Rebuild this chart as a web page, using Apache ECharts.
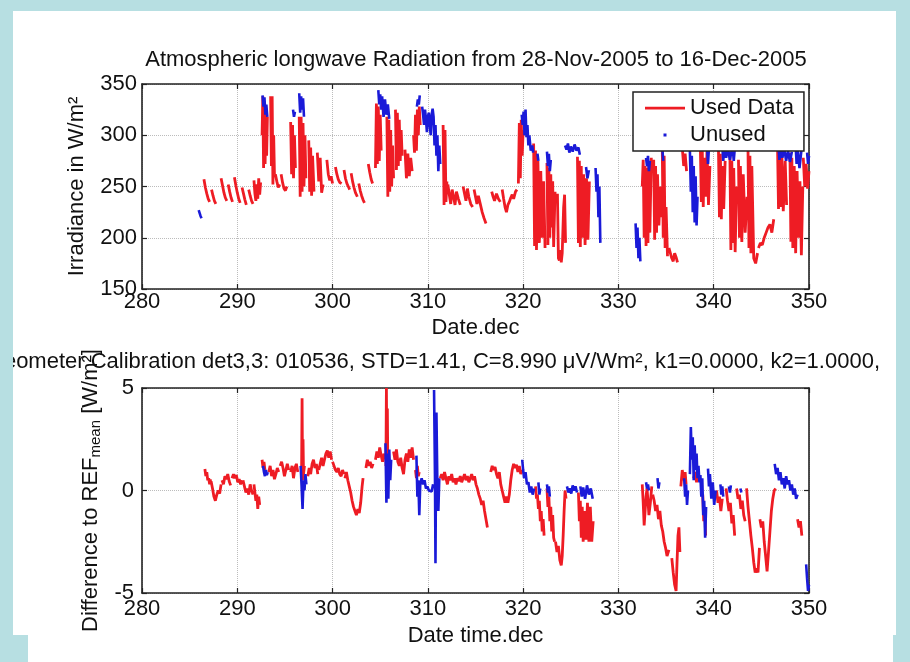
<!DOCTYPE html>
<html>
<head>
<meta charset="utf-8">
<script src="https://cdn.jsdelivr.net/npm/echarts@6/dist/echarts.min.js"></script>
<style>html,body{margin:0;padding:0;background:#b7dfe2;}#c{width:910px;height:662px;}</style>
</head>
<body>
<div id="c"></div>
<script>
// ---------- tick labels ----------
const xTicks = [280, 290, 300, 310, 320, 330, 340, 350];
const radTicks = [150, 200, 250, 300, 350];
const diffTicks = [-5, 0, 5];

// ---------- texts ----------
const title1 = 'Atmospheric longwave Radiation from 28-Nov-2005 to 16-Dec-2005';
const title2 = 'Pyrgeometer Calibration det3,3: 010536, STD=1.41, C=8.990 \u03bcV/Wm\u00b2, k1=0.0000, k2=1.0000,';
const legendNames = ['Used Data', 'Unused'];

// ---------- top panel: irradiance, used data (segments of [day, W/m2]) ----------
const radUsed = [
 [[286.5,257],[286.65,249],[286.8,243],[286.95,238],[287.1,235]],
 [[287.3,247],[287.45,241],[287.6,236],[287.75,233]],
 [[288.3,258],[288.45,251],[288.6,244],[288.75,239],[288.9,236]],
 [[289.05,252],[289.2,245],[289.35,239],[289.5,235]],
 [[289.7,259],[289.85,251],[290.0,244],[290.15,238],[290.3,234]],
 [[290.5,249],[290.65,243],[290.8,237],[290.95,232]],
 [[291.2,247],[291.35,241],[291.5,236],[291.65,233]],
 [[291.75,256],[291.85,243],[291.95,236],[292.05,252],[292.15,238],[292.25,258],[292.35,242],[292.45,254]],
 [[292.6,300],[292.68,338],[292.76,268],[292.84,333],[292.92,272],[293.0,325],[293.08,280],[293.16,318]],
 [[293.5,338],[293.58,270],[293.66,338],[293.74,252],[293.82,300],[293.9,262]],
 [[294.0,262],[294.15,255],[294.3,249],[294.45,252]],
 [[294.6,262],[294.75,254],[294.9,248],[295.05,246],[295.2,250]],
 [[295.6,313],[295.7,262],[295.8,310],[295.9,258],[296.0,300],[296.1,268]],
 [[296.5,318],[296.6,240],[296.7,318],[296.8,245],[296.9,312],[297.0,250],[297.1,300],[297.2,258]],
 [[297.5,295],[297.6,245],[297.7,288],[297.8,241],[297.9,280],[298.05,245]],
 [[298.4,283],[298.55,255],[298.7,278],[298.85,244],[299.0,252]],
 [[299.4,276],[299.55,262],[299.7,256],[299.85,260],[300.0,253]],
 [[300.3,269],[300.45,262],[300.6,257],[300.75,254],[300.95,253]],
 [[301.2,266],[301.35,258],[301.5,253],[301.65,250],[301.8,247]],
 [[301.95,263],[302.1,255],[302.25,249],[302.4,244],[302.6,240]],
 [[302.75,253],[302.9,246],[303.05,241],[303.2,237],[303.35,234]],
 [[303.75,272],[303.9,264],[304.05,257],[304.2,253]],
 [[304.5,268],[304.6,331],[304.7,272],[304.8,328],[304.9,275],[305.0,320],[305.1,285]],
 [[305.7,318],[305.8,240],[305.9,315],[306.0,245],[306.1,305],[306.2,250],[306.3,290],[306.4,258]],
 [[306.6,325],[306.7,266],[306.8,322],[306.9,270],[307.0,315],[307.1,275],[307.2,305],[307.3,280]],
 [[307.6,286],[307.75,258],[307.9,282],[308.05,260],[308.2,278],[308.35,265]],
 [[308.5,300],[308.6,283],[308.7,320],[308.8,285],[308.9,325],[309.0,300],[309.1,328],[309.2,310]],
 [[311.6,310],[311.7,232],[311.8,305],[311.9,235],[312.0,255]],
 [[312.1,252],[312.25,242],[312.4,233],[312.55,247],[312.7,240],[312.85,232],[313.0,245],[313.2,238],[313.4,232]],
 [[313.7,250],[313.85,243],[314.0,236],[314.15,248],[314.3,240],[314.5,233],[314.7,230]],
 [[314.85,247],[315.0,240],[315.15,233],[315.3,241],[315.5,233],[315.7,225],[315.9,219],[316.1,214]],
 [[316.7,245],[316.85,240],[317.0,236],[317.2,243],[317.4,238],[317.6,235]],
 [[317.8,247],[317.95,238],[318.1,230],[318.25,225],[318.4,232],[318.55,235],[318.7,239],[318.85,242],[319.0,238],[319.2,245],[319.35,247]],
 [[319.5,253],[319.6,312],[319.7,258],[319.8,315],[319.9,280],[320.0,305]],
 [[321.1,292],[321.2,192],[321.3,285],[321.4,188],[321.55,275],[321.7,195],[321.85,265],[322.0,200],[322.15,255],[322.3,190]],
 [[322.5,273],[322.6,193],[322.7,268],[322.8,200],[322.9,262],[323.0,210],[323.1,255],[323.2,191],[323.35,245]],
 [[323.6,243],[323.7,180],[323.8,178],[323.9,188],[324.0,176],[324.1,185],[324.25,230],[324.35,242],[324.45,195]],
 [[325.7,279],[325.8,195],[325.9,275],[326.0,191],[326.1,270],[326.2,200],[326.35,262],[326.5,193],[326.65,258],[326.8,198],[326.95,255]],
 [[332.5,250],[332.6,276],[332.7,200],[332.8,270],[332.9,192],[333.0,268],[333.1,195],[333.2,275],[333.3,205],[333.45,278]],
 [[333.7,276],[333.8,198],[333.9,270],[334.0,205],[334.1,262],[334.25,212],[334.4,250],[334.55,220]],
 [[334.6,288],[334.7,200],[334.8,280],[334.9,190],[335.0,230],[335.15,182]],
 [[335.3,190],[335.45,185],[335.6,180],[335.75,177],[335.9,185],[336.05,181],[336.2,176]],
 [[336.7,288],[336.85,270],[337.0,282],[337.15,265]],
 [[338.6,288],[338.7,235],[338.8,285],[338.9,230],[339.0,278],[339.15,240],[339.3,286],[339.45,232],[339.6,270]],
 [[340.5,286],[340.6,220],[340.7,282],[340.8,218],[340.9,270],[341.05,228],[341.2,275]],
 [[341.7,280],[341.8,188],[341.9,275],[342.0,195],[342.1,268],[342.25,186],[342.4,250]],
 [[342.6,276],[342.7,200],[342.8,270],[342.95,196],[343.1,262],[343.3,205],[343.5,240]],
 [[343.6,285],[343.7,190],[343.8,280],[343.9,185],[344.0,270],[344.2,180],[344.4,175],[344.6,185]],
 [[344.7,190],[344.9,195],[345.1,193],[345.3,200],[345.5,205],[345.7,210],[345.9,213],[346.1,205],[346.3,218]],
 [[346.7,288],[346.8,228],[346.9,285],[347.0,230],[347.15,280],[347.3,226],[347.5,275],[347.65,232]],
 [[348.0,283],[348.1,196],[348.2,278],[348.3,190],[348.45,270],[348.6,185],[348.75,265],[348.9,200],[349.05,255],[349.2,183],[349.35,250]],
 [[349.4,278],[349.55,250],[349.7,272],[349.85,248],[350.0,265]]
];

// ---------- top panel: irradiance, unused data ----------
const radUnused = [
 [[285.95,227],[286.05,224],[286.15,221],[286.25,219]],
 [[292.65,339],[292.75,328],[292.85,337],[292.95,320],[293.05,330],[293.15,318]],
 [[295.85,325],[295.95,318],[296.05,323]],
 [[296.5,341],[296.6,322],[296.7,338],[296.8,325],[296.9,336],[297.0,318]],
 [[304.8,344],[304.9,330],[305.0,340],[305.1,325],[305.2,338],[305.35,318],[305.5,335],[305.65,320],[305.8,330],[305.95,316]],
 [[308.85,328],[308.95,335],[309.05,330],[309.15,339]],
 [[309.4,328],[309.5,320],[309.6,310],[309.7,325],[309.8,316],[309.9,303],[310.0,318],[310.1,322],[310.2,310],[310.3,300],[310.4,320],[310.5,326],[310.6,318],[310.7,290],[310.8,310],[310.9,280],[311.0,300],[311.1,265],[311.2,290],[311.3,272]],
 [[319.85,320],[319.95,310],[320.05,323],[320.15,300],[320.25,325],[320.35,298],[320.45,310],[320.55,290],[320.65,300],[320.8,285],[320.95,290],[321.05,283]],
 [[321.5,282],[321.6,275]],
 [[322.5,284],[322.6,270],[322.7,282],[322.8,265],[322.9,276]],
 [[324.4,290],[324.55,286],[324.7,292],[324.85,283],[325.0,289],[325.2,284],[325.4,291],[325.6,285],[325.8,288],[325.95,281]],
 [[326.6,269],[326.75,258],[326.9,266]],
 [[327.6,268],[327.7,245],[327.8,262],[327.9,220],[328.0,250],[328.1,195]],
 [[331.8,214],[331.9,190],[332.0,210],[332.1,180],[332.2,200],[332.3,177]],
 [[332.9,278],[333.0,270],[333.1,280],[333.2,265],[333.3,275]],
 [[334.6,288],[334.7,275]],
 [[337.5,285],[337.6,245],[337.7,280],[337.8,225],[337.9,270],[338.0,215],[338.1,260],[338.2,212],[338.3,240]],
 [[339.3,290],[339.4,272],[339.5,288]],
 [[340.9,290],[341.0,275],[341.1,288],[341.3,278],[341.5,287],[341.7,276],[341.9,286]],
 [[342.0,288],[342.1,275],[342.2,286]],
 [[346.8,290],[346.9,276],[347.0,288],[347.2,278],[347.4,287],[347.6,275],[347.8,285],[348.0,274],[348.2,284]],
 [[348.6,290],[348.7,272],[348.8,288],[349.0,268],[349.2,285]],
 [[349.8,283],[349.9,272],[350.0,280]]
];

// ---------- bottom panel: difference to REF mean, used data ----------
const diffUsed = [
 [[286.6,1.05],[286.7,0.7],[286.8,0.9],[286.9,0.5],[287.0,0.6],[287.1,0.3],[287.2,0.55]],
 [[287.25,0.45],[287.4,0.1],[287.55,-0.3],[287.7,-0.5],[287.85,-0.2],[288.0,0.0],[288.15,-0.15],[288.3,0.3]],
 [[288.4,0.5],[288.55,0.3],[288.7,0.7],[288.85,0.55],[289.0,0.8],[289.15,0.45],[289.3,0.25]],
 [[289.45,0.6],[289.6,0.8],[289.75,0.6],[289.9,0.75],[290.05,0.4],[290.2,0.55],[290.35,0.3],[290.5,0.5]],
 [[290.6,0.5],[290.75,0.2],[290.9,-0.1],[291.05,0.1],[291.2,-0.2],[291.35,0.3],[291.5,0.0],[291.65,-0.2]],
 [[291.75,0.3],[291.85,-0.1],[291.95,-0.5],[292.05,-0.2],[292.15,-0.9],[292.25,-0.3],[292.35,-0.7]],
 [[292.6,1.5],[292.7,1.1],[292.8,1.4],[292.9,1.0]],
 [[293.3,0.9],[293.45,1.2],[293.6,0.7],[293.75,1.0],[293.9,0.55],[294.05,0.8],[294.2,1.1],[294.35,0.9]],
 [[294.5,1.2],[294.65,1.4],[294.8,1.1],[294.95,0.7],[295.1,1.0],[295.25,1.3],[295.4,1.0]],
 [[295.6,0.9],[295.75,1.2],[295.9,0.6],[296.05,1.1],[296.2,1.3],[296.35,0.9]],
 [[296.75,1.0],[296.8,4.5],[296.85,0.5],[296.9,2.5],[296.95,0.8],[297.05,1.2]],
 [[297.4,0.7],[297.55,1.1],[297.7,0.8],[297.85,1.3],[298.0,1.5],[298.15,1.1],[298.3,1.3],[298.45,0.8]],
 [[298.55,1.0],[298.7,1.3],[298.85,1.6],[299.0,1.2],[299.15,1.5],[299.3,1.8],[299.45,1.95],[299.6,1.6],[299.75,1.9],[299.9,1.5]],
 [[300.0,1.4],[300.15,1.2],[300.3,1.0],[300.45,0.9],[300.6,1.1],[300.75,0.8],[300.9,0.7],[301.05,1.0],[301.2,0.8]],
 [[301.3,0.6],[301.45,0.9],[301.6,0.5],[301.75,0.2],[301.9,-0.1],[302.05,-0.5],[302.2,-0.8],[302.35,-1.0],[302.5,-1.2],[302.65,-0.9],[302.8,-1.1],[302.95,-0.6],[303.1,0.2],[303.2,0.6]],
 [[303.5,1.1],[303.65,1.5],[303.8,1.2],[303.95,1.4],[304.1,1.1],[304.25,1.3]],
 [[304.5,1.5],[304.65,1.9],[304.8,1.6],[304.95,2.1],[305.1,1.7],[305.25,1.4],[305.4,1.8]],
 [[305.6,1.2],[305.65,5.0],[305.7,1.5],[305.75,4.0],[305.8,1.0],[305.9,1.6]],
 [[306.4,1.9],[306.55,1.5],[306.7,2.0],[306.85,1.4],[307.0,1.2],[307.15,1.6],[307.3,1.1],[307.45,0.8],[307.6,1.5],[307.75,1.8],[307.9,1.4],[308.05,2.0],[308.2,1.6],[308.35,2.1],[308.5,1.5]],
 [[308.7,1.0],[308.8,0.6],[308.9,1.2],[309.0,0.7],[309.1,0.9]],
 [[311.3,0.6],[311.45,0.8],[311.6,0.5],[311.75,0.9],[311.9,0.6],[312.05,0.3],[312.2,0.7],[312.35,0.5],[312.5,0.8],[312.65,0.4],[312.8,0.6],[312.95,0.3],[313.1,0.6],[313.25,0.45],[313.4,0.7],[313.55,0.4],[313.7,0.6],[313.85,0.8],[314.0,0.5],[314.15,0.7],[314.3,0.4],[314.45,0.6],[314.6,0.8],[314.75,0.5],[314.9,0.7],[315.05,0.3],[315.2,0.1],[315.35,-0.2],[315.5,-0.4],[315.65,-0.7],[315.8,-0.5],[315.95,-1.0],[316.1,-1.4],[316.25,-1.8]],
 [[316.6,0.9],[316.75,1.2],[316.9,1.0],[317.05,1.15],[317.2,0.8],[317.35,0.6],[317.5,0.9],[317.65,0.3],[317.8,0.0],[317.95,-0.3],[318.1,-0.6],[318.25,-0.3],[318.4,-0.6],[318.55,-0.2],[318.7,0.5],[318.85,1.0],[319.0,1.3],[319.15,1.1],[319.3,1.25],[319.45,0.9],[319.6,1.2],[319.75,0.8],[319.9,1.0]],
 [[321.3,0.2],[321.4,-0.4],[321.5,-0.2],[321.6,-0.9],[321.7,-0.5],[321.8,-1.5],[321.9,-1.0],[322.0,-2.0],[322.1,-1.4],[322.2,-2.2]],
 [[322.5,0.1],[322.6,-0.8],[322.7,-0.3],[322.8,-1.5],[322.9,-0.8],[323.0,-2.0],[323.1,-1.2],[323.2,-2.3],[323.3,-2.5]],
 [[323.4,-2.5],[323.55,-3.0],[323.7,-2.7],[323.85,-3.4],[324.0,-3.65],[324.1,-3.2],[324.2,-2.2],[324.3,-1.0],[324.4,0.0],[324.5,-0.4]],
 [[325.8,-0.1],[325.9,-1.5],[326.0,-0.5],[326.1,-2.3],[326.2,-0.8],[326.3,-2.5],[326.45,-1.0],[326.6,-2.4],[326.75,-0.6],[326.9,-2.5],[327.05,-0.8],[327.2,-2.5],[327.35,-1.5]],
 [[332.5,0.3],[332.6,-0.6],[332.7,-1.7],[332.8,-1.0],[332.9,-0.3],[333.0,0.1],[333.1,-0.5],[333.2,-1.2],[333.35,-0.6],[333.5,0.2]],
 [[333.6,-0.2],[333.75,-0.5],[333.9,-1.0],[334.05,-0.7],[334.2,-1.4],[334.35,-1.0],[334.5,-1.7],[334.65,-2.0],[334.8,-2.5],[334.95,-2.8],[335.1,-3.2],[335.3,-2.9]],
 [[335.6,-3.3],[335.75,-4.0],[335.9,-4.6],[336.05,-4.9],[336.15,-3.5],[336.25,-2.2],[336.35,-1.8],[336.45,-3.0]],
 [[336.55,0.2],[336.7,1.0],[336.85,0.5],[337.0,0.9],[337.1,0.3]],
 [[337.9,0.6],[338.05,0.9],[338.2,0.4],[338.35,0.7]],
 [[338.85,-0.2],[338.95,-1.5],[339.05,-0.8],[339.15,-2.2]],
 [[340.3,0.0],[340.45,-0.6],[340.6,-0.3],[340.75,-1.0],[340.9,-0.4]],
 [[341.3,0.1],[341.45,-0.5],[341.6,-1.0],[341.75,-0.6],[341.9,-1.6],[342.05,-1.2],[342.2,-2.2]],
 [[342.4,0.1],[342.55,-0.4],[342.7,-0.2],[342.85,-0.9],[343.0,-0.5],[343.15,-1.2],[343.3,-1.5]],
 [[343.45,0.1],[343.6,-0.8],[343.75,-1.5],[343.9,-2.2],[344.05,-2.8],[344.2,-3.5],[344.35,-4.0],[344.5,-3.8],[344.65,-4.0],[344.8,-2.8]],
 [[344.85,-1.4],[345.0,-1.8],[345.15,-1.5],[345.3,-2.5],[345.45,-3.2],[345.6,-3.95],[345.75,-3.0],[345.9,-2.0],[346.05,-1.0],[346.2,-0.4],[346.35,0.0],[346.5,0.1]],
 [[348.8,-1.4],[348.95,-1.8],[349.1,-1.5],[349.25,-2.2]]
];

// ---------- bottom panel: difference to REF mean, unused data ----------
const diffUnused = [
 [[292.7,1.2],[292.8,0.9],[292.9,0.7],[293.0,1.0],[293.1,0.75],[293.2,0.9]],
 [[296.65,1.2],[296.75,0.2],[296.85,-0.9],[296.95,0.5],[297.05,0.0],[297.15,0.8],[297.25,0.3]],
 [[305.55,2.3],[305.65,-0.6],[305.75,1.8],[305.85,-0.4],[305.95,2.0],[306.05,0.5],[306.15,1.5]],
 [[308.8,1.7],[308.9,-0.3],[309.0,0.5],[309.1,-1.2],[309.2,0.3],[309.35,0.6],[309.5,0.3],[309.65,0.5],[309.8,0.1],[309.95,0.2],[310.1,0.0],[310.25,0.05],[310.4,-0.05],[310.55,0.3]],
 [[310.65,4.9],[310.75,0.5],[310.8,-3.55],[310.85,0.7],[310.9,3.8],[311.0,0.2],[311.1,-1.0],[311.2,0.6]],
 [[319.9,1.5],[320.0,1.0],[320.1,0.6],[320.25,0.9],[320.4,0.3],[320.55,0.4],[320.7,-0.1],[320.85,0.2],[321.0,-0.2],[321.15,0.1]],
 [[321.6,0.4],[321.7,-0.2],[321.8,0.1]],
 [[322.5,0.3],[322.6,-0.1],[322.7,0.2],[322.8,-0.3]],
 [[324.6,0.2],[324.75,-0.1],[324.9,0.1],[325.05,-0.15],[325.2,0.25],[325.35,0.0],[325.5,0.2],[325.65,-0.1]],
 [[326.0,0.2],[326.15,-0.3],[326.3,0.15],[326.5,-0.4],[326.7,0.25],[326.9,-0.2],[327.1,0.1],[327.3,-0.4]],
 [[332.9,0.4],[333.0,0.1],[333.1,0.3],[333.2,0.0]],
 [[334.1,0.6],[334.2,0.1],[334.3,0.4]],
 [[336.9,0.6],[337.0,-0.3],[337.1,0.3],[337.2,-0.7],[337.3,0.0]],
 [[337.5,0.8],[337.6,3.1],[337.7,1.5],[337.8,2.6],[337.9,0.5],[338.0,2.2],[338.1,1.0],[338.2,1.8],[338.3,0.6],[338.4,1.2],[338.5,0.4]],
 [[338.6,0.75],[338.7,-0.3],[338.8,0.6],[338.9,-1.2],[339.0,-0.5],[339.1,-2.3],[339.2,-0.8]],
 [[339.4,1.07],[339.5,0.2],[339.6,0.8],[339.75,-0.4],[339.9,0.4],[340.05,-0.7],[340.2,0.0]],
 [[340.7,0.3],[340.8,-0.2],[340.9,0.2],[341.0,-0.3]],
 [[341.6,0.2],[341.7,-0.1],[341.8,0.25]],
 [[342.8,0.1],[342.9,-0.1]],
 [[346.4,1.3],[346.55,0.8],[346.7,1.1],[346.85,0.5],[347.0,0.9],[347.15,0.3],[347.3,0.6],[347.45,0.1],[347.6,0.7],[347.75,0.3],[347.9,0.5],[348.05,0.0],[348.2,0.3],[348.35,-0.2],[348.5,0.1],[348.65,-0.4],[348.8,-0.2]],
 [[349.7,-3.6],[349.8,-4.3],[349.9,-4.9],[350.0,-4.6]]
];

// ---------- build ----------
function flatten(segs) {
  const out = [];
  segs.forEach((s, i) => { if (i) out.push(['-', '-']); s.forEach(p => out.push(p)); });
  return out;
}
const RED = '#ee1c24', BLUE = '#1a1ad8', FONT = 'Liberation Sans, Arial, sans-serif';
const TXT = '#111';
const FS = 22;
const step = a => a[1] - a[0];

function xAx(grid, bottom, margin, name, gap) {
  return {
    gridIndex: grid, type: 'value', position: bottom ? 'bottom' : 'top',
    min: xTicks[0], max: xTicks[xTicks.length - 1], interval: step(xTicks),
    axisLine: { show: true, onZero: false, lineStyle: { color: '#222', width: 1.6 } },
    axisTick: { show: true, inside: true, length: 5, lineStyle: { color: '#222', width: 1.2 } },
    axisLabel: { show: bottom, fontSize: FS, color: TXT, fontFamily: FONT, margin: margin },
    splitLine: { show: bottom, lineStyle: { color: '#bcbcbc', type: 'dotted', width: 1 } },
    name: bottom ? name : '', nameLocation: 'middle', nameGap: gap,
    nameTextStyle: { fontSize: FS, color: TXT, fontFamily: FONT }
  };
}
function yAx(grid, left, ticks, margin, name, gap, rich) {
  return {
    gridIndex: grid, type: 'value', position: left ? 'left' : 'right',
    min: ticks[0], max: ticks[ticks.length - 1], interval: step(ticks),
    axisLine: { show: true, onZero: false, lineStyle: { color: '#222', width: 1.6 } },
    axisTick: { show: true, inside: true, length: 5, lineStyle: { color: '#222', width: 1.2 } },
    axisLabel: { show: left, fontSize: FS, color: TXT, fontFamily: FONT, margin: margin },
    splitLine: { show: left, lineStyle: { color: '#bcbcbc', type: 'dotted', width: 1 } },
    name: left ? name : '', nameLocation: 'middle', nameGap: gap,
    nameTextStyle: { fontSize: FS, color: TXT, fontFamily: FONT, lineHeight: 25, rich: rich || {} }
  };
}

const option = {
  animation: false,
  backgroundColor: '#b7dfe2',
  textStyle: { fontFamily: FONT },
  graphic: [
    { type: 'rect', z: -10, shape: { x: 13, y: 11, width: 883, height: 624 }, style: { fill: '#ffffff' } },
    { type: 'rect', z: -10, shape: { x: 28, y: 634, width: 865, height: 28 }, style: { fill: '#ffffff' } },
    { type: 'rect', z: 100, shape: { x: 0, y: 340, width: 13, height: 45 }, style: { fill: '#b7dfe2' } }
  ],
  title: [
    { text: title1, left: 476, textAlign: 'center', top: 49, padding: 0,
      textStyle: { fontSize: FS, fontWeight: 'normal', color: TXT, fontFamily: FONT } },
    { text: title2, right: 30, top: 351, padding: 0,
      textStyle: { fontSize: FS, fontWeight: 'normal', color: TXT, fontFamily: FONT } }
  ],
  legend: {
    left: 633, top: 92, orient: 'vertical',
    backgroundColor: '#ffffff', borderColor: '#222', borderWidth: 1.5,
    padding: [4, 10, 4, 12], itemGap: 3, itemWidth: 40, itemHeight: 14,
    textStyle: { fontSize: FS, color: TXT, fontFamily: FONT, lineHeight: 24 },
    itemStyle: { borderWidth: 0 },
    data: [
      { name: legendNames[0], icon: 'path://M0,0L0.01,0L0,0.01ZM0,5.8L40,5.8L40,8.4L0,8.4ZM40,14L39.99,14L40,13.99Z' },
      { name: legendNames[1], icon: 'path://M0,0L0.01,0L0,0.01ZM18.5,5.5L21.5,5.5L21.5,8.5L18.5,8.5ZM40,14L39.99,14L40,13.99Z' }
    ]
  },
  grid: [
    { left: 142, right: 101, top: 84, height: 205 },
    { left: 142, right: 101, top: 388, height: 205 }
  ],
  xAxis: [
    xAx(0, true, 2, 'Date.dec', 28), xAx(0, false),
    xAx(1, true, 5, 'Date time.dec', 32), xAx(1, false)
  ],
  yAxis: [
    yAx(0, true, radTicks, 5, 'Irradiance in W/m\u00b2', 50),
    yAx(0, false, radTicks),
    yAx(1, true, diffTicks, 8, 'Difference to REF{sub|mean} [W/m\u00b2]', 37,
        { sub: { fontSize: 15, verticalAlign: 'bottom', lineHeight: 15, fontFamily: FONT, color: TXT } }),
    yAx(1, false, diffTicks)
  ],
  series: [
    { name: legendNames[0], type: 'line', xAxisIndex: 0, yAxisIndex: 0, data: flatten(radUsed),
      showSymbol: false, symbol: 'none', lineStyle: { color: RED, width: 2.8 }, itemStyle: { color: RED }, clip: true },
    { name: legendNames[1], type: 'line', xAxisIndex: 0, yAxisIndex: 0, data: flatten(radUnused),
      showSymbol: false, symbol: 'none', lineStyle: { color: BLUE, width: 2.6 }, itemStyle: { color: BLUE }, clip: true },
    { name: legendNames[0], type: 'line', xAxisIndex: 2, yAxisIndex: 2, data: flatten(diffUsed),
      showSymbol: false, symbol: 'none', lineStyle: { color: RED, width: 2.8 }, itemStyle: { color: RED }, clip: true },
    { name: legendNames[1], type: 'line', xAxisIndex: 2, yAxisIndex: 2, data: flatten(diffUnused),
      showSymbol: false, symbol: 'none', lineStyle: { color: BLUE, width: 2.6 }, itemStyle: { color: BLUE }, clip: true }
  ]
};
const chart = echarts.init(document.getElementById('c'), null, { renderer: 'canvas' });
chart.setOption(option);
</script>
</body>
</html>
